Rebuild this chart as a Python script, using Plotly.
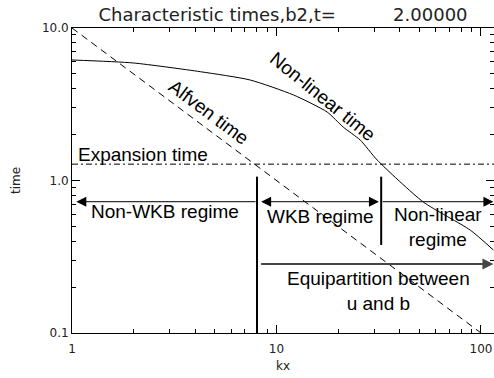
import numpy as np
import plotly.graph_objects as go

# Non-linear time curve
kx_nl = [1.0, 1.99, 4.24, 7.44, 12.1, 17.7, 21.2, 25.7, 31.1, 52.2, 88.6, 115.0]
tau_nl = [6.17, 5.90, 5.17, 4.56, 3.64, 2.81, 2.24, 1.84, 1.36, 0.723, 0.473, 0.350]

# Alfven time (straight line on log-log)
kx_alf = [1.0, 100.0]
tau_alf = [10.0, 0.1]

# Expansion time (constant)
kx_exp = [1.0, 116.0]
tau_exp = [1.28, 1.28]

# regime boundaries and arrow levels
kx_wkb = 8.03
kx_nlb = 32.5
kx_left = 1.05
kx_right = 115.0
y_regime = 0.726
y_equip = 0.283
vline1_y = [0.1, 1.06]
vline2_y = [0.378, 1.06]

x_major = [1, 10, 100]
x_minor = [2, 3, 4, 5, 6, 7, 8, 9, 20, 30, 40, 50, 60, 70, 80, 90]
y_major = [0.1, 1, 10]
y_minor = [0.2, 0.3, 0.4, 0.5, 0.6, 0.7, 0.8, 0.9, 2, 3, 4, 5, 6, 7, 8, 9]
x_labels = {1: "1", 10: "10", 100: "100"}
y_labels = {0.1: "0.1", 1: "1.0", 10: "10.0"}

L = np.log10
TXT = dict(family="Liberation Sans, Arial", size=19, color="black")
TF = dict(family="DejaVu Sans", size=12, color="#222")

fig = go.Figure()

fig.add_trace(go.Scatter(x=kx_nl, y=tau_nl, mode="lines", line=dict(color="black", width=1, shape="spline", smoothing=0.6)))
fig.add_trace(go.Scatter(x=kx_alf, y=tau_alf, mode="lines", line=dict(color="black", width=1, dash="7px,5px")))
fig.add_trace(go.Scatter(x=kx_exp, y=tau_exp, mode="lines", line=dict(color="black", width=1, dash="6px,3px,2px,3px")))

# vertical regime boundaries
fig.add_trace(go.Scatter(x=[kx_wkb, kx_wkb], y=vline1_y, mode="lines", line=dict(color="black", width=2)))
fig.add_trace(go.Scatter(x=[kx_nlb, kx_nlb], y=vline2_y, mode="lines", line=dict(color="black", width=2)))

def arrow(x_tip, x_tail, y, both=False, width=1, color="black", size=2):
    fig.add_annotation(
        x=L(x_tip), y=L(y), ax=L(x_tail), ay=L(y), xref="x", yref="y", axref="x", ayref="y",
        text="", showarrow=True, arrowhead=2, arrowsize=size, arrowwidth=width, arrowcolor=color,
        startarrowhead=2, startarrowsize=size, arrowside="end+start" if both else "end",
        standoff=0, startstandoff=0)

arrow(kx_left, kx_wkb, y_regime)
arrow(kx_nlb * 0.975, kx_wkb * 1.03, y_regime, both=True)
arrow(kx_right, kx_nlb, y_regime)
arrow(kx_right, kx_wkb * 1.03, y_equip, width=2, color="#444", size=1.1)

def label(text, lx, ly, angle=0):
    fig.add_annotation(x=lx, y=ly, xref="x", yref="y", text=text, showarrow=False,
                       font=TXT, textangle=angle, xanchor="center", yanchor="middle")

label("Alfven time", 0.672, 0.449, 36.7)
label("Non-linear time", 1.225, 0.548, 39)
label("Expansion time", 0.349, 0.172)
label("Non-WKB regime", 0.456, -0.205)
label("WKB regime", 1.214, -0.233)
label("Non-linear<br>regime", 1.791, -0.308)
label("Equipartition between<br>u and b", 1.498, -0.725)

def log_axis(major, minor, labels, rng, title, standoff):
    vals = sorted(major + minor)
    return dict(
        type="log", range=rng, showgrid=False, zeroline=False, automargin=False,
        showline=True, linecolor="black", linewidth=1, mirror="ticks",
        tickmode="array", tickvals=vals, ticktext=[labels.get(v, "") for v in vals],
        ticks="inside", ticklen=4, tickcolor="black", tickfont=TF,
        minor=dict(tickmode="array", tickvals=major, ticks="inside", ticklen=8,
                   tickcolor="black", showgrid=False),
        title=dict(text=title, font=TF, standoff=standoff),
    )

fig.update_layout(
    xaxis=dict(**log_axis(x_major, x_minor, x_labels, [0, 2.0636], "kx", 6), ticklabelstandoff=5),
    yaxis=log_axis(y_major, y_minor, y_labels, [-1, 1], "time", 18),
)

fig.update_layout(
    width=494, height=378,
    margin=dict(l=72, r=0, t=28, b=45),
    paper_bgcolor="white", plot_bgcolor="white",
    title=dict(text="Characteristic times,b2,t=\u00a0\u00a0\u00a0\u00a0\u00a0\u00a0\u00a0\u00a0\u00a0\u00a02.00000",
               font=dict(family="DejaVu Sans", size=18, color="#222"),
               x=0.5, xref="paper", xanchor="center", y=1 - 15 / 378, yanchor="middle"),
    showlegend=False,
)

# drop the page body's default 8px margin so the figure fills the window exactly
fig.write_html("out.html", config={"displayModeBar": False},
               post_script="document.body.style.margin='0px';document.body.style.overflow='hidden';")
